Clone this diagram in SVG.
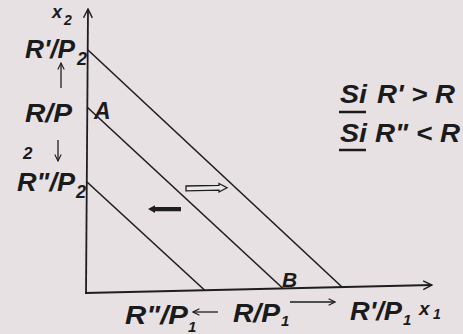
<svg xmlns="http://www.w3.org/2000/svg" width="463" height="334" viewBox="0 0 463 334">
<defs>
<marker id="open" viewBox="0 0 10 10" refX="9" refY="5" markerWidth="8" markerHeight="8" markerUnits="userSpaceOnUse" orient="auto">
<path d="M1,1 L9,5 L1,9" fill="none" stroke="#1e1e1e" stroke-width="1.4"/>
</marker>
<marker id="axis" viewBox="0 0 10 10" refX="9" refY="5" markerWidth="11" markerHeight="11" markerUnits="userSpaceOnUse" orient="auto">
<path d="M1,1 L9,5 L1,9" fill="none" stroke="#1e1e1e" stroke-width="1.3"/>
</marker>
</defs>
<style>
.ln{stroke:#1e1e1e;stroke-width:1.6;fill:none}
.ax{stroke:#1e1e1e;stroke-width:1.8;fill:none}
.ar{stroke:#1e1e1e;stroke-width:1.3;fill:none;marker-end:url(#open)}
.lb{font-family:"Liberation Sans",Arial,sans-serif;font-weight:bold;font-style:italic;fill:#1b1b1b}
.sb{font-family:"Liberation Sans",Arial,sans-serif;font-weight:bold;font-style:italic;fill:#1b1b1b}
.vr{font-family:"Liberation Sans",Arial,sans-serif;font-weight:bold;font-style:italic;fill:#1b1b1b}
.cd{font-family:"Liberation Sans",Arial,sans-serif;font-weight:bold;font-style:italic;fill:#1b1b1b;font-size:26px}
</style>
<rect width="463" height="334" fill="#e7e1e4"/>
<g id="connectors">
<path class="ax" d="M86,294 L88,9" marker-end="url(#axis)"/>
<path class="ax" d="M85,293 L432,285" marker-end="url(#axis)"/>
<path id="budget-high" class="ln" d="M88,50 L342,287"/>
<path id="budget-base" class="ln" d="M87,107 L283,288.5"/>
<path id="budget-low" class="ln" d="M87,182 L205,290.5"/>
<path class="ar" d="M61,88 L61,63"/>
<path class="ar" d="M58,140 L58,161"/>
<path class="ar" d="M218,312 L193,312"/>
<path class="ar" d="M290,302 L335,302"/>
<path id="shift-out" d="M186,186 L219,185.3 L219,183.5 L227,187.8 L219,192 L219,190.2 L186,190.8 Z" fill="#ece8ea" stroke="#1e1e1e" stroke-width="1.3"/>
<path id="shift-in" d="M148,209 L155,205.2 L155,207 L181,207 L181,211.2 L155,211.2 L155,213 Z" fill="#1e1e1e"/>
</g>
<g id="axis-labels">
<text class="vr" x="52" y="18" font-size="18">x</text>
<text class="vr" x="64" y="25" font-size="14">2</text>
<text class="vr" x="419" y="315" font-size="19">x</text>
<text class="vr" x="433" y="319" font-size="14">1</text>
</g>
<g id="y-labels">
<text class="lb" x="25" y="58" font-size="26" textLength="50" lengthAdjust="spacingAndGlyphs">R'/P</text>
<text class="sb" x="77" y="65" font-size="18">2</text>
<text class="lb" x="25" y="122" font-size="26" textLength="47" lengthAdjust="spacingAndGlyphs">R/P</text>
<text class="sb" x="23" y="159" font-size="17">2</text>
<text class="lb" x="17" y="191" font-size="26" textLength="58" lengthAdjust="spacingAndGlyphs">R"/P</text>
<text class="sb" x="76" y="198" font-size="18">2</text>
</g>
<g id="x-labels">
<text class="lb" x="125" y="324" font-size="25" textLength="63" lengthAdjust="spacingAndGlyphs">R"/P</text>
<text class="sb" x="188" y="332" font-size="15">1</text>
<text class="lb" x="233" y="322" font-size="25" textLength="47" lengthAdjust="spacingAndGlyphs">R/P</text>
<text class="sb" x="281" y="326" font-size="15">1</text>
<text class="lb" x="350" y="320" font-size="25" textLength="52" lengthAdjust="spacingAndGlyphs">R'/P</text>
<text class="sb" x="403" y="325" font-size="15">1</text>
</g>
<g id="point-A"><text class="lb" x="94" y="119" font-size="23">A</text></g>
<g id="point-B"><text class="lb" x="282" y="287" font-size="21">B</text></g>
<g id="conditions">
<text class="cd" x="340" y="103" textLength="27" lengthAdjust="spacingAndGlyphs">Si</text>
<text class="cd" x="377" y="103" textLength="78" lengthAdjust="spacingAndGlyphs">R' &gt; R</text>
<line x1="339" y1="112" x2="366" y2="112" stroke="#1b1b1b" stroke-width="2.5"/>
<text class="cd" x="340" y="142" textLength="27" lengthAdjust="spacingAndGlyphs">Si</text>
<text class="cd" x="375" y="142" textLength="85" lengthAdjust="spacingAndGlyphs">R" &lt; R</text>
<line x1="339" y1="150" x2="366" y2="150" stroke="#1b1b1b" stroke-width="2.5"/>
</g>
</svg>
